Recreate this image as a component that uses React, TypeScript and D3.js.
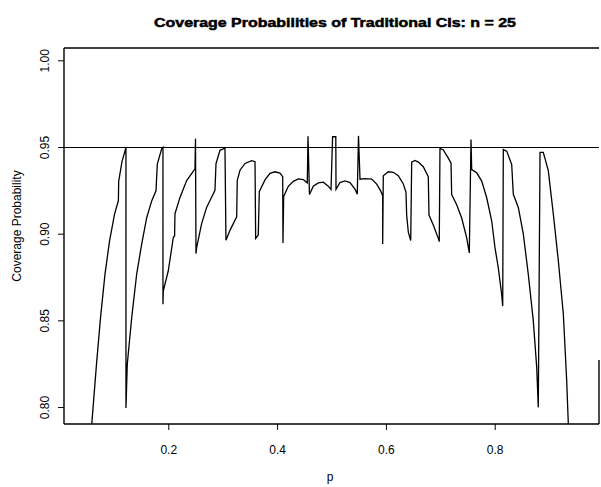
import React from 'react';
import * as d3 from 'd3';

// p values
const pValues = [
  0.0583, 0.0671, 0.0744, 0.0827, 0.0910, 0.1002, 0.1074, 0.1079, 0.1140, 0.1213, 0.1213,
  0.1237, 0.1318, 0.1410, 0.1502, 0.1594, 0.1686, 0.1765, 0.1789, 0.1869, 0.1893, 0.1893,
  0.1899, 0.1991, 0.2083, 0.2107, 0.2114, 0.2206, 0.2329, 0.2482, 0.2491, 0.2500,
  0.2513, 0.2605, 0.2697, 0.2789, 0.2849, 0.2868, 0.2941, 0.3033, 0.3051,
  0.3125, 0.3248, 0.3259, 0.3309, 0.3401, 0.3524, 0.3585, 0.3597,
  0.3645, 0.3664, 0.3768, 0.3860, 0.3952, 0.4044, 0.4094, 0.4099, 0.4112,
  0.4197, 0.4289, 0.4381, 0.4472, 0.4546, 0.4559, 0.4586,
  0.4656, 0.4748, 0.4840, 0.4932, 0.4982, 0.5011, 0.5070, 0.5074,
  0.5147, 0.5239, 0.5331, 0.5423, 0.5465, 0.5487, 0.5515,
  0.5607, 0.5730, 0.5822, 0.5895, 0.5932, 0.5932, 0.5943,
  0.6035, 0.6127, 0.6219, 0.6311, 0.6360, 0.6373, 0.6403, 0.6447, 0.6465,
  0.6526, 0.6586, 0.6678, 0.6770, 0.6783, 0.6862, 0.6954, 0.6972, 0.6985,
  0.7046, 0.7138, 0.7188, 0.7200, 0.7292, 0.7384, 0.7476, 0.7524, 0.7555, 0.7568,
  0.7660, 0.7752, 0.7844, 0.7936, 0.7996, 0.8057, 0.8119, 0.8138, 0.8149,
  0.8211, 0.8303, 0.8333, 0.8425, 0.8517, 0.8608, 0.8700, 0.8763, 0.8792, 0.8824,
  0.8884, 0.8976, 0.9068, 0.9160, 0.9252, 0.9314, 0.9344,
];

// coverage probability at each p
const coverage = [
  0.790, 0.8249, 0.8514, 0.8768, 0.8958, 0.9114, 0.9194, 0.9304, 0.9419, 0.9500, 0.7998,
  0.825, 0.8517, 0.877, 0.8943, 0.9095, 0.9192, 0.925, 0.9404, 0.9492, 0.950, 0.8596,
  0.8673, 0.8789, 0.8981, 0.8990, 0.9118, 0.9212, 0.9309, 0.9377, 0.955, 0.8888,
  0.8924, 0.9062, 0.9156, 0.9214, 0.9253, 0.9407, 0.9484, 0.9496, 0.8965,
  0.9022, 0.910, 0.9311, 0.9369, 0.9408, 0.9424, 0.9418, 0.8976,
  0.8995, 0.9245, 0.9313, 0.9351, 0.936, 0.9352, 0.9332, 0.8949, 0.9218,
  0.9276, 0.9305, 0.9319, 0.9315, 0.9296, 0.9565, 0.9229,
  0.9277, 0.9296, 0.930, 0.9277, 0.9258, 0.9562, 0.9562, 0.9259,
  0.9298, 0.9307, 0.9298, 0.926, 0.9231, 0.9567, 0.9317,
  0.9321, 0.9318, 0.9289, 0.925, 0.9221, 0.8943, 0.9337,
  0.936, 0.9357, 0.9337, 0.929, 0.9242, 0.9107, 0.9012, 0.8963, 0.9415,
  0.9425, 0.9416, 0.9389, 0.9332, 0.911, 0.9053, 0.8976, 0.8957, 0.9496,
  0.9486, 0.9439, 0.9409, 0.9228, 0.917, 0.9093, 0.8979, 0.8892, 0.9546, 0.9373,
  0.9354, 0.9306, 0.921, 0.9076, 0.8922, 0.8806, 0.8652, 0.8585, 0.9488,
  0.9479, 0.9403, 0.923, 0.9154, 0.900, 0.877, 0.8501, 0.8232, 0.8001, 0.9472,
  0.9472, 0.9367, 0.9117, 0.8848, 0.8541, 0.8156, 0.7906,
];

const nominalLevel = 0.95;
const xTicks = [0.2, 0.4, 0.6, 0.8];
const xTickLabels = ['0.2', '0.4', '0.6', '0.8'];
const yTicks = [0.8, 0.85, 0.9, 0.95, 1.0];
const yTickLabels = ['0.80', '0.85', '0.90', '0.95', '1.00'];
const titleText = 'Coverage Probabilities of Traditional CIs: n = 25';
const xLabel = 'p';
const yLabel = 'Coverage Probability';

export default function App() {
  const W = 601;
  const H = 487;
  const left = 64, right = 599, top = 48, bottom = 424;
  const x = d3.scaleLinear().domain([0.0074, 0.9908]).range([left, right]);
  const y = d3.scaleLinear().domain([0.7905, 1.0074]).range([bottom, top]);
  const pts: [number, number][] = pValues.map((p, i) => [p, coverage[i]]);
  const line = d3.line<[number, number]>().x(d => x(d[0])).y(d => y(d[1]));
  const font = '"Liberation Sans", Arial, Helvetica, sans-serif';

  return (
    <svg width={W} height={H} viewBox={`0 0 ${W} ${H}`}
      style={{ position: 'absolute', left: 0, top: 0, background: '#fff' }}
      fontFamily={font}>
      <rect x={0} y={0} width={W} height={H} fill="#fff" />
      <text x={335} y={27} textAnchor="middle" fontSize={13} fontWeight="bold"
        stroke="#000" strokeWidth={0.5} fill="#000" textLength={362} lengthAdjust="spacingAndGlyphs">
        {titleText}
      </text>
      <defs>
        <clipPath id="plotclip">
          <rect x={left} y={top} width={right - left} height={bottom - top} />
        </clipPath>
      </defs>
      {/* frame */}
      <line x1={left} y1={top} x2={right} y2={top} stroke="#000" strokeWidth={1.6} />
      <line x1={left} y1={bottom} x2={right} y2={bottom} stroke="#000" strokeWidth={1.4} />
      <line x1={left} y1={top} x2={left} y2={bottom} stroke="#000" strokeWidth={1.4} />
      <line x1={right} y1={360} x2={right} y2={bottom} stroke="#000" strokeWidth={1.4} />
      {/* nominal level */}
      <line x1={left} x2={right} y1={y(nominalLevel)} y2={y(nominalLevel)} stroke="#000" strokeWidth={1.1} />
      {/* coverage curve */}
      <path d={line(pts) || ''} fill="none" stroke="#000" strokeWidth={1.3}
        strokeLinejoin="miter" clipPath="url(#plotclip)" />
      {/* y axis */}
      {yTicks.map((t, i) => (
        <g key={'y' + i}>
          <line x1={left - 6} x2={left} y1={y(t)} y2={y(t)} stroke="#000" strokeWidth={1} />
          <text transform={`translate(45,${y(t)}) rotate(-90)`} textAnchor="middle" dy="0.35em"
            fontSize={12} fill="#000">{yTickLabels[i]}</text>
        </g>
      ))}
      {/* x axis */}
      {xTicks.map((t, i) => (
        <g key={'x' + i}>
          <line x1={x(t)} x2={x(t)} y1={bottom} y2={bottom + 6} stroke="#000" strokeWidth={1} />
          <text x={x(t)} y={454} textAnchor="middle" fontSize={12} fill="#000">{xTickLabels[i]}</text>
        </g>
      ))}
      <text x={330} y={481} textAnchor="middle" fontSize={12} fill="#000">{xLabel}</text>
      <text transform={`translate(17,226) rotate(-90)`} textAnchor="middle" dy="0.35em"
        fontSize={12} fill="#000">{yLabel}</text>
    </svg>
  );
}
